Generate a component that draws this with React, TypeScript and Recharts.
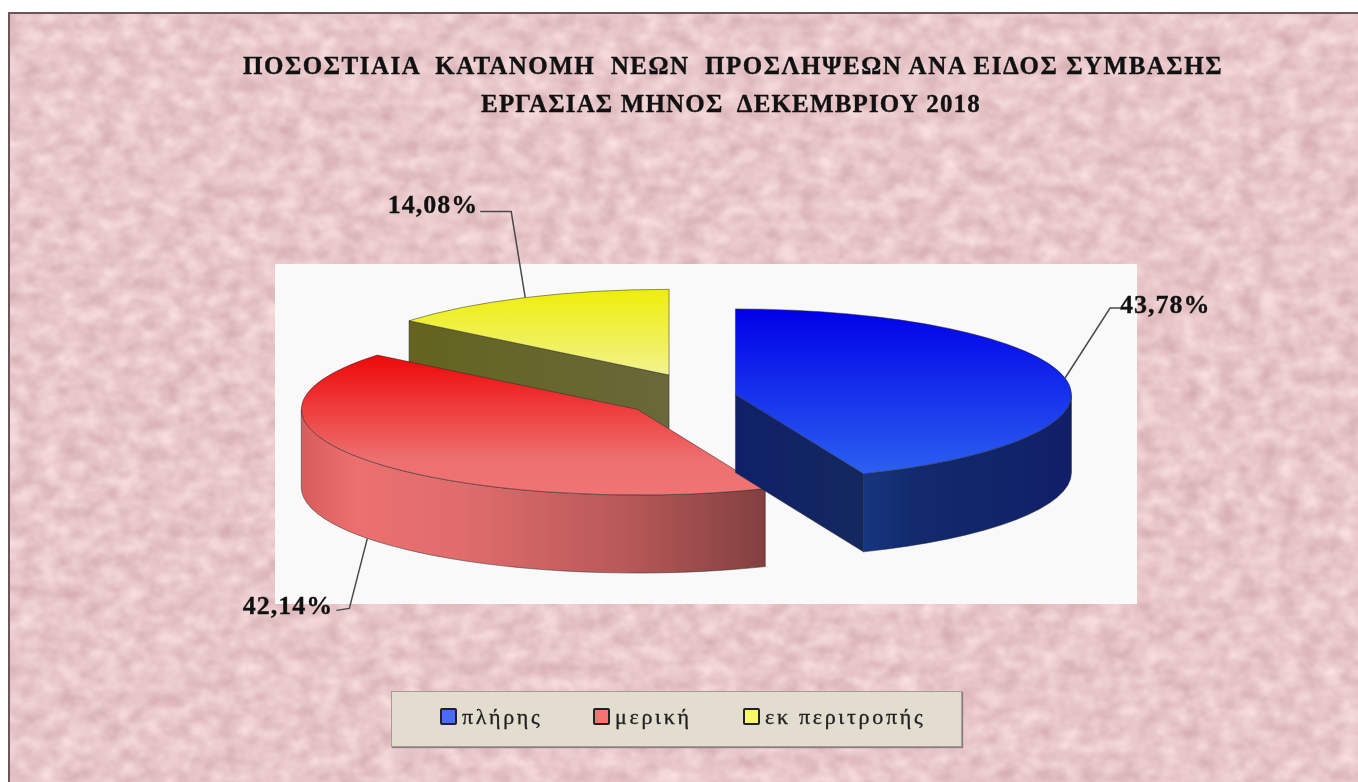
import React from "react";
import { PieChart, Pie, Cell, Legend } from "recharts";

const CATEGORIES = ["πλήρης", "μερική", "εκ περιτροπής"];
const VALUES = [43.78, 42.14, 14.08];
const TITLE_LINES = [
  "ΠΟΣΟΣΤΙΑΙΑ  ΚΑΤΑΝΟΜΗ  ΝΕΩΝ  ΠΡΟΣΛΗΨΕΩΝ ΑΝΑ ΕΙΔΟΣ ΣΥΜΒΑΣΗΣ",
  "ΕΡΓΑΣΙΑΣ ΜΗΝΟΣ  ΔΕΚΕΜΒΡΙΟΥ 2018",
];

// drawn back to front so the red slice sits over the olive wall of the yellow one
const TABLE = CATEGORIES.map((name, i) => ({ name, value: VALUES[i] })).reverse();

const WIDTH = 1358;
const HEIGHT = 782;
const CX = 708;
const CY = 396;
const RADIUS = 336;
const TILT = 0.255; // ellipse squash of the fake 3d view
const DEPTH = 78;
const SERIF = "'Liberation Serif', 'Times New Roman', serif";

const STYLES: Record<string, any> = {
  "πλήρης": { explode: 28, top: "blueTop", outer: "blueOuter", cut: "blueCut", swatch: "#4a6cf5", leader: [[45, -70], [55, -70]], textDx: 55, textDy: 5, anchor: "start" },
  "μερική": { explode: 88, top: "redTop", outer: "redOuter", cut: "redOuter", swatch: "#f47474", leader: [[-18, 70], [-31, 72]], textDx: -34, textDy: 4, anchor: "end" },
  "εκ περιτροπής": { explode: 91, top: "yellowTop", outer: "yellowCut", cut: "yellowCut", swatch: "#f8f870", leader: [[-14, -86], [-45, -86]], textDx: -47, textDy: 1, anchor: "end" },
};

const rad = (a: number) => (a * Math.PI) / 180;

function sliceCenter(cx: number, cy: number, mid: number, explode: number) {
  return {
    x: cx + explode * Math.cos(rad(mid)),
    y: cy - explode * TILT * Math.sin(rad(mid)),
  };
}

function rimPoint(c: { x: number; y: number }, a: number, drop = 0) {
  return { x: c.x + RADIUS * Math.cos(rad(a)), y: c.y - RADIUS * TILT * Math.sin(rad(a)) + drop };
}

// going up in angle means counter-clockwise on screen, sweep flag 0
function arc(c: { x: number; y: number }, from: number, to: number, drop = 0) {
  const p = rimPoint(c, to, drop);
  const large = Math.abs(to - from) > 180 ? 1 : 0;
  const sweep = to > from ? 0 : 1;
  return `A${RADIUS} ${RADIUS * TILT} 0 ${large} ${sweep} ${p.x} ${p.y}`;
}

function Slice3D(props: any) {
  const { cx, cy, startAngle, endAngle, name, payload } = props;
  const key = name ?? payload?.name;
  const st = STYLES[key];
  const mid = (startAngle + endAngle) / 2;
  const c = sliceCenter(cx, cy, mid, st.explode);
  const a = rimPoint(c, startAngle);
  const edge = { stroke: "#2a2a2a", strokeOpacity: 0.5, strokeWidth: 1 };

  const walls: React.ReactNode[] = [];
  // cut faces, only the ones turned towards the viewer
  [
    { angle: startAngle, normal: startAngle - 90 },
    { angle: endAngle, normal: endAngle + 90 },
  ].forEach((w) => {
    if (Math.sin(rad(w.normal)) < -0.01) {
      const p = rimPoint(c, w.angle);
      walls.push(
        <path
          key={w.angle}
          d={`M${c.x} ${c.y}L${p.x} ${p.y}V${p.y + DEPTH}L${c.x} ${c.y + DEPTH}Z`}
          fill={`url(#${st.cut})`}
          {...edge}
        />
      );
    }
  });
  // outer wall, lower half of the ellipse
  const from = Math.max(startAngle, 180);
  const to = Math.min(endAngle, 360);
  if (to > from) {
    const p = rimPoint(c, from);
    const q = rimPoint(c, to);
    walls.push(
      <path
        key="outer"
        d={`M${p.x} ${p.y}${arc(c, from, to)}V${q.y + DEPTH}${arc(c, to, from, DEPTH)}Z`}
        fill={`url(#${st.outer})`}
        {...edge}
      />
    );
  }

  return (
    <g>
      {walls}
      <path
        d={`M${c.x} ${c.y}L${a.x} ${a.y}${arc(c, startAngle, endAngle)}Z`}
        fill={`url(#${st.top})`}
        {...edge}
      />
    </g>
  );
}

function renderLabel(props: any) {
  const { cx, cy, midAngle, name, value } = props;
  const st = STYLES[name];
  const c = sliceCenter(cx, cy, midAngle, st.explode);
  const front = Math.sin(rad(midAngle)) < 0;
  const start = rimPoint(c, midAngle, front ? DEPTH : 0);
  const [elbow, end] = st.leader;
  return (
    <g>
      <path
        d={`M${start.x} ${start.y}L${start.x + elbow[0]} ${start.y + elbow[1]}L${start.x + end[0]} ${start.y + end[1]}`}
        fill="none"
        stroke="#4a4a4a"
        strokeWidth={1.5}
      />
      <text
        x={start.x + st.textDx}
        y={start.y + end[1] + st.textDy}
        textAnchor={st.anchor}
        fontFamily={SERIF}
        fontWeight="bold"
        fontSize={26}
        letterSpacing={1}
        stroke="#111"
        strokeWidth={0.3}
        fill="#111"
      >
        {value.toFixed(2).replace(".", ",")}%
      </text>
    </g>
  );
}

function LegendBox() {
  return (
    <div
      style={{
        width: 571,
        height: 56,
        boxSizing: "border-box",
        background: "#e3ddcf",
        border: "1px solid #a89a96",
        boxShadow: "1px 1px 1px #8c7c7c",
        display: "flex",
        alignItems: "center",
        paddingLeft: 48,
        paddingBottom: 5,
        fontFamily: SERIF,
        fontSize: 22,
        letterSpacing: 2.7,
        color: "#222",
        WebkitTextStroke: "0.3px #222",
        whiteSpace: "nowrap",
      }}
    >
      {CATEGORIES.map((name, i) => (
        <span key={name} style={{ display: "flex", alignItems: "center", flexShrink: 0, width: i === 0 ? 153 : 150 }}>
          <span
            style={{
              width: 13,
              height: 13,
              flexShrink: 0,
              marginRight: 5,
              background: STYLES[name].swatch,
              border: "2px solid #222",
              borderRadius: 2,
            }}
          />
          {name}
        </span>
      ))}
    </div>
  );
}

export default function App() {
  return (
    <div style={{ position: "absolute", left: 0, top: 0, width: WIDTH, height: HEIGHT, overflow: "hidden", background: "#fff" }}>
      <svg width={WIDTH} height={HEIGHT} style={{ position: "absolute", left: 0, top: 0 }}>
        <defs>
          <filter id="paper" x="0" y="0" width="100%" height="100%" colorInterpolationFilters="sRGB">
            <feTurbulence type="fractalNoise" baseFrequency="0.05 0.065" numOctaves={5} seed={11} />
            <feColorMatrix
              type="matrix"
              values="0 0 0 0.18 0.82  0 0 0 0.26 0.65  0 0 0 0.24 0.67  0 0 0 0 1"
            />
            <feGaussianBlur stdDeviation="1" />
          </filter>
        </defs>
        <rect x={8} y={12} width={WIDTH} height={HEIGHT} fill="#e8c4c8" filter="url(#paper)" />
        <path d={`M9 ${HEIGHT}V13H${WIDTH}`} fill="none" stroke="#6b5558" strokeWidth={2} />
      </svg>
      <div style={{ position: "absolute", left: 0, top: 0, filter: "blur(0.6px)" }}>
        <PieChart width={WIDTH} height={HEIGHT} margin={{ top: 0, right: 0, bottom: 0, left: 0 }}>
          <defs>
            <linearGradient id="blueTop" x1="0" y1="0" x2="0" y2="1">
              <stop offset="0" stopColor="#0000e8" />
              <stop offset="1" stopColor="#2c60f0" />
            </linearGradient>
            <linearGradient id="blueOuter" x1="0" y1="0" x2="1" y2="0">
              <stop offset="0" stopColor="#173680" />
              <stop offset="0.25" stopColor="#122a6c" />
              <stop offset="1" stopColor="#101f68" />
            </linearGradient>
            <linearGradient id="blueCut" x1="0" y1="0" x2="1" y2="0">
              <stop offset="0" stopColor="#0f2068" />
              <stop offset="1" stopColor="#14285f" />
            </linearGradient>
            <linearGradient id="redTop" x1="0" y1="0" x2="0" y2="1">
              <stop offset="0" stopColor="#ee0808" />
              <stop offset="0.75" stopColor="#ee7070" />
              <stop offset="1" stopColor="#ef7474" />
            </linearGradient>
            <linearGradient id="redOuter" x1="0" y1="0" x2="1" y2="0">
              <stop offset="0" stopColor="#d85c5c" />
              <stop offset="0.12" stopColor="#ec7070" />
              <stop offset="0.35" stopColor="#e06c6c" />
              <stop offset="0.7" stopColor="#b85858" />
              <stop offset="1" stopColor="#824040" />
            </linearGradient>
            <linearGradient id="yellowTop" x1="0" y1="0" x2="0" y2="1">
              <stop offset="0" stopColor="#eeee08" />
              <stop offset="1" stopColor="#f2f290" />
            </linearGradient>
            <linearGradient id="yellowCut" x1="0" y1="0" x2="1" y2="0">
              <stop offset="0" stopColor="#64641f" />
              <stop offset="1" stopColor="#68683a" />
            </linearGradient>
          </defs>
          <rect x={275} y={264} width={862} height={340} fill="#f9f9f9" />
          {TITLE_LINES.map((line, i) => (
            <text
              key={line}
              x={i === 0 ? 733 : 731}
              y={74 + i * 38}
              textAnchor="middle"
              style={{ whiteSpace: "pre" }}
              fontFamily={SERIF}
              fontWeight="bold"
              fontSize={25}
              letterSpacing={i === 0 ? 1.5 : 1.15}
              stroke="#111"
              strokeWidth={0.35}
              fill="#111"
            >
              {line}
            </text>
          ))}
          <Pie
            data={TABLE}
            dataKey="value"
            nameKey="name"
            cx={CX}
            cy={CY}
            innerRadius={0}
            outerRadius={RADIUS}
            startAngle={90}
            endAngle={450}
            stroke="none"
            shape={Slice3D}
            label={renderLabel}
            labelLine={false}
            isAnimationActive={false}
          >
            {TABLE.map((d) => (
              <Cell key={d.name} fill={STYLES[d.name].swatch} />
            ))}
          </Pie>
          <Legend
            content={<LegendBox />}
            wrapperStyle={{ position: "absolute", left: 391, top: 691, width: 571, height: 56, bottom: "auto" }}
          />
        </PieChart>
      </div>
    </div>
  );
}
